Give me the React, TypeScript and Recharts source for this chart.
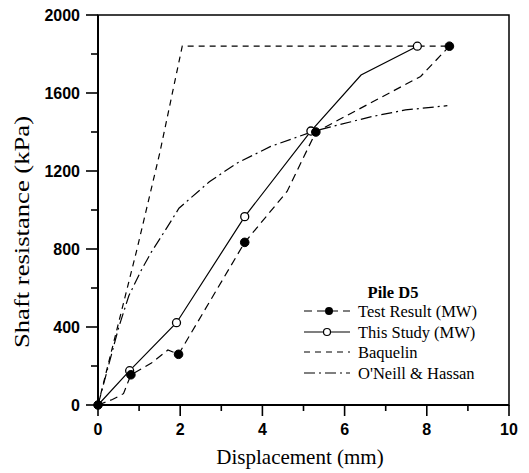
import { ComposedChart, Line, XAxis, YAxis, ReferenceArea, Label, Customized } from 'recharts';

// axis ticks
const xTicks = [0, 1, 2, 3, 4, 5, 6, 7, 8, 9, 10];
const yTicks = [0, 200, 400, 600, 800, 1000, 1200, 1400, 1600, 1800, 2000];

// Test Result (MW): dashed curve + filled markers
const testLineX = [0, 0.35, 0.62, 0.8, 1.3, 1.7, 1.96, 3.57, 4.6, 5.3, 7.85, 8.55];
const testLineY = [0, 28, 58, 155, 215, 282, 260, 834, 1095, 1400, 1685, 1840];
const testPtX = [0, 0.8, 1.96, 3.57, 5.3, 8.55];
const testPtY = [0, 155, 260, 834, 1400, 1840];

// This Study (MW): solid + open markers
const studyX = [0, 0.77, 1.91, 3.57, 5.18, 6.4, 7.77];
const studyY = [0, 176, 422, 966, 1405, 1692, 1840];
const studyPtX = [0.77, 1.91, 3.57, 5.18, 7.77];
const studyPtY = [176, 422, 966, 1405, 1840];

// Baquelin
const baqX = [0, 0.95, 1.5, 2.05, 8.5];
const baqY = [0, 800, 1290, 1840, 1840];

// O'Neill & Hassan
const onhX = [0, 0.5, 0.75, 1.05, 1.3, 1.64, 1.97, 2.71, 3.37, 4.19, 5.22, 5.84, 6.66, 7.48, 8.5];
const onhY = [0, 395, 560, 690, 785, 897, 1009, 1145, 1239, 1325, 1402, 1436, 1479, 1513, 1535];

const legendTitle = 'Pile D5';
const legendLabels = ['Test Result (MW)', 'This Study (MW)', 'Baquelin', "O'Neill & Hassan"];

const toPts = (xs: number[], ys: number[]) => xs.map((x, i) => ({ x, y: ys[i] }));

const SERIF = '"Liberation Serif", "Times New Roman", serif';
const SANS = '"Liberation Sans", Arial, sans-serif';

const TEST_DASH = '8 5';
const BAQ_DASH = '6 5';
const ONH_DASH = '11 4 2 4';

const XTick = (props: any) => {
  const { x, y, payload } = props;
  const major = payload.value % 2 === 0;
  return (
    <g>
      <line x1={x} x2={x} y1={y} y2={y + (major ? 11 : 6)} stroke="#000" strokeWidth={1.6} />
      {major && (
        <text x={x} y={y + 30} textAnchor="middle" fontFamily={SANS} fontWeight="bold" fontSize={16} fill="#000">
          {payload.value}
        </text>
      )}
    </g>
  );
};

const YTick = (props: any) => {
  const { x, y, payload } = props;
  const major = payload.value % 400 === 0;
  return (
    <g>
      <line x1={x - (major ? 12 : 7)} x2={x} y1={y} y2={y} stroke="#000" strokeWidth={1.6} />
      {major && (
        <text x={x - 18} y={y + 6} textAnchor="end" fontFamily={SANS} fontWeight="bold" fontSize={16} fill="#000">
          {payload.value}
        </text>
      )}
    </g>
  );
};

const LegendBox = () => {
  const x0 = 304;
  const x1 = 350;
  const tx = 358;
  const rows = [311, 332, 352, 373];
  return (
    <g fontFamily={SERIF} fill="#000">
      <text x={393} y={298} textAnchor="middle" fontWeight="bold" fontSize={16.5}>
        {legendTitle}
      </text>
      <line x1={x0} x2={x1} y1={rows[0]} y2={rows[0]} stroke="#000" strokeWidth={1.2} strokeDasharray={TEST_DASH} />
      <circle cx={329} cy={rows[0]} r={4} fill="#000" />
      <line x1={x0} x2={x1} y1={rows[1]} y2={rows[1]} stroke="#000" strokeWidth={1.2} />
      <circle cx={327} cy={rows[1]} r={3.5} fill="#fff" stroke="#000" strokeWidth={1.2} />
      <line x1={x0} x2={x1} y1={rows[2]} y2={rows[2]} stroke="#000" strokeWidth={1.2} strokeDasharray={BAQ_DASH} />
      <line x1={x0} x2={x1} y1={rows[3]} y2={rows[3]} stroke="#000" strokeWidth={1.2} strokeDasharray={ONH_DASH} />
      {legendLabels.map((t, i) => (
        <text key={t} x={tx} y={rows[i] + 5.5} fontSize={16.5}>
          {t}
        </text>
      ))}
    </g>
  );
};

export default function App() {
  return (
    <div style={{ position: 'absolute', left: 0, top: 0, background: '#fff' }}>
      <ComposedChart width={529} height={473} margin={{ top: 15, right: 20, bottom: 38, left: 38 }}>
        <XAxis
          type="number"
          dataKey="x"
          domain={[0, 10]}
          ticks={xTicks}
          interval={0}
          tickSize={0}
          tickMargin={0}
          tickLine={false}
          tick={<XTick />}
          axisLine={{ stroke: '#000', strokeWidth: 2 }}
          height={30}
        >
          <Label
            content={() => (
              <text x={300} y={464} textAnchor="middle" fontFamily={SERIF} fontSize={21} fill="#000">
                Displacement (mm)
              </text>
            )}
          />
        </XAxis>
        <YAxis
          type="number"
          domain={[0, 2000]}
          ticks={yTicks}
          interval={0}
          tickSize={0}
          tickMargin={0}
          tickLine={false}
          tick={<YTick />}
          axisLine={{ stroke: '#000', strokeWidth: 2 }}
          width={60}
        >
          <Label
            content={() => (
              <text
                x={22}
                y={232}
                transform="rotate(-90 22 232)"
                textAnchor="middle"
                dominantBaseline="central"
                fontFamily={SERIF}
                fontSize={20}
                textLength={232}
                lengthAdjust="spacingAndGlyphs"
                fill="#000"
              >
                Shaft resistance (kPa)
              </text>
            )}
          />
        </YAxis>
        <ReferenceArea x1={0} x2={10} y1={0} y2={2000} fill="none" stroke="#000" strokeWidth={1.5} />

        <Line data={toPts(baqX, baqY)} dataKey="y" type="linear" stroke="#000" strokeWidth={1.2} strokeDasharray={BAQ_DASH} dot={false} isAnimationActive={false} />
        <Line data={toPts(onhX, onhY)} dataKey="y" type="linear" stroke="#000" strokeWidth={1.2} strokeDasharray={ONH_DASH} dot={false} isAnimationActive={false} />
        <Line data={toPts(testLineX, testLineY)} dataKey="y" type="linear" stroke="#000" strokeWidth={1.2} strokeDasharray={TEST_DASH} dot={false} isAnimationActive={false} />
        <Line data={toPts(studyX, studyY)} dataKey="y" type="linear" stroke="#000" strokeWidth={1.2} dot={false} isAnimationActive={false} />

        <Line data={toPts(studyPtX, studyPtY)} dataKey="y" stroke="none" dot={{ r: 4, fill: '#fff', stroke: '#000', strokeWidth: 1.3 }} isAnimationActive={false} />
        <Line data={toPts(testPtX, testPtY)} dataKey="y" stroke="none" dot={{ r: 4.3, fill: '#000', stroke: '#000', strokeWidth: 1 }} isAnimationActive={false} />

        <Customized component={LegendBox} />
      </ComposedChart>
    </div>
  );
}
